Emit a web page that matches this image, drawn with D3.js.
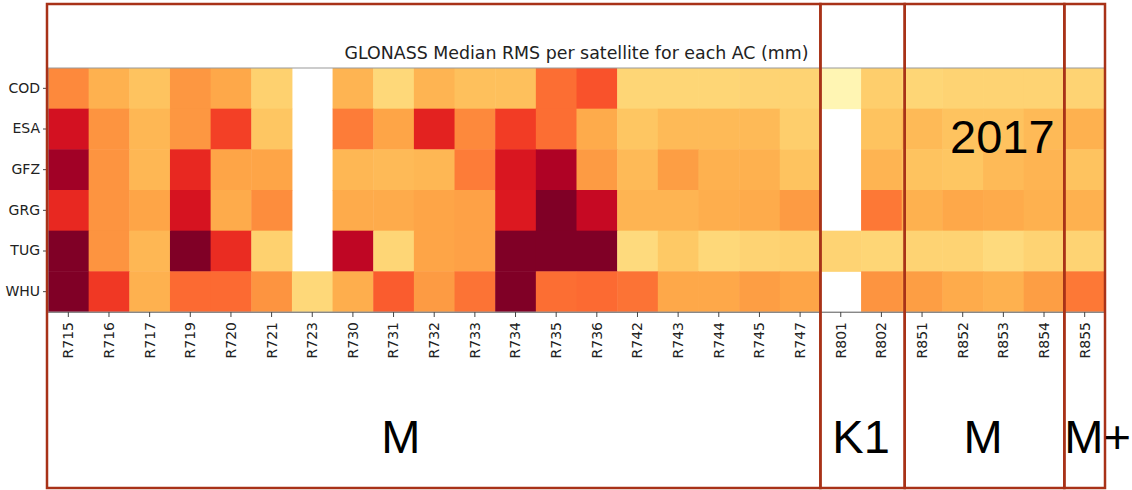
<!DOCTYPE html>
<html>
<head>
<meta charset="utf-8">
<script src="https://cdn.jsdelivr.net/npm/d3@7"></script>
<style>
  body { margin: 0; background: #fff; }
  .axis text { font-family: "DejaVu Sans", sans-serif; font-size: 14px; fill: #222; }
  .axis line { stroke: #444; }
  .axis path { stroke: #888; }
</style>
</head>
<body>
<div id="chart"></div>
<script>
// satellites (columns) and analysis centres (rows)
let satellites = ["R715", "R716", "R717", "R719", "R720", "R721", "R723", "R730", "R731", "R732",
    "R733", "R734", "R735", "R736", "R742", "R743", "R744", "R745", "R747", "R801", "R802",
    "R851", "R852", "R853", "R854", "R855"];
let centers = ["COD", "ESA", "GFZ", "GRG", "TUG", "WHU"];

// relative median RMS read from the colours (0 = low, 1 = high), null = no data
let cod = [0.50, 0.38, 0.32, 0.46, 0.41, 0.27, null, 0.37, 0.24, 0.37, 0.33, 0.33, 0.56, 0.62, 0.25, 0.25, 0.25, 0.26, 0.26, 0.07, 0.28, 0.25, 0.26, 0.26, 0.26, 0.26];
let esa = [0.80, 0.47, 0.36, 0.46, 0.66, 0.31, null, 0.53, 0.42, 0.74, 0.50, 0.67, 0.56, 0.40, 0.31, 0.35, 0.35, 0.35, 0.28, null, 0.32, 0.35, 0.32, 0.32, 0.35, 0.38];
let gfz = [0.93, 0.47, 0.36, 0.72, 0.42, 0.42, null, 0.36, 0.35, 0.36, 0.53, 0.78, 0.90, 0.45, 0.35, 0.44, 0.38, 0.38, 0.32, null, 0.37, 0.32, 0.31, 0.35, 0.37, 0.32];
let grg = [0.72, 0.47, 0.42, 0.79, 0.40, 0.49, null, 0.40, 0.40, 0.42, 0.43, 0.77, 1.00, 0.84, 0.37, 0.37, 0.39, 0.40, 0.45, null, 0.54, 0.38, 0.41, 0.40, 0.38, 0.38];
let tug = [1.00, 0.47, 0.36, 1.00, 0.71, 0.27, null, 0.86, 0.25, 0.42, 0.43, 1.00, 1.00, 1.00, 0.23, 0.30, 0.24, 0.26, 0.27, 0.26, 0.25, 0.26, 0.26, 0.23, 0.26, 0.26];
let whu = [1.00, 0.68, 0.38, 0.57, 0.57, 0.47, 0.24, 0.39, 0.60, 0.45, 0.55, 1.00, 0.56, 0.57, 0.55, 0.41, 0.41, 0.44, 0.42, null, 0.47, 0.44, 0.40, 0.38, 0.44, 0.54];

// satellite blocks marked on the figure
let blockNames = ["M", "K1", "M", "M+"];
let blockFirst = ["R715", "R801", "R851", "R855"];

let rows = [cod, esa, gfz, grg, tug, whu];
let cells = [];
rows.forEach(function (vals, i) {
    vals.forEach(function (v, j) {
        cells.push({ac: centers[i], sat: satellites[j], value: v});
    });
});

let W = 1132, H = 490;
let margin = {top: 68, right: 27, bottom: 178, left: 48};
let width = W - margin.left - margin.right,
    height = H - margin.top - margin.bottom;

let svg = d3.select("#chart")
    .append("svg")
    .attr("width", W)
    .attr("height", H);

let g = svg.append("g")
    .attr("transform", "translate(" + margin.left + "," + margin.top + ")");

let x = d3.scaleBand().domain(satellites).range([0, width]);
let y = d3.scaleBand().domain(centers).range([0, height]);
let color = d3.scaleSequential(d3.interpolateYlOrRd).domain([0, 1]);

// cells
g.append("g")
    .selectAll("rect")
    .data(cells.filter(function (d) { return d.value !== null; }))
    .enter()
    .append("rect")
    .attr("x", function (d) { return x(d.sat); })
    .attr("y", function (d) { return y(d.ac); })
    .attr("width", x.bandwidth() + 0.5)
    .attr("height", y.bandwidth() + 0.5)
    .attr("fill", function (d) { return color(d.value); });

// frame
g.append("rect")
    .attr("width", width)
    .attr("height", height)
    .attr("fill", "none")
    .attr("stroke", "#999")
    .attr("stroke-width", 1);

// axes
g.append("g")
    .attr("class", "axis")
    .attr("transform", "translate(0," + height + ")")
    .call(d3.axisBottom(x).tickSize(5).tickSizeOuter(0))
    .selectAll("text")
    .attr("transform", "rotate(-90)")
    .attr("text-anchor", "end")
    .attr("x", -10)
    .attr("y", 0)
    .attr("dy", "0.35em");

g.append("g")
    .attr("class", "axis")
    .call(d3.axisLeft(y).tickSize(5).tickPadding(3).tickSizeOuter(0))
    .select(".domain").remove();

// title
g.append("text")
    .attr("x", width / 2)
    .attr("y", -9)
    .attr("text-anchor", "middle")
    .style("font-family", "DejaVu Sans, sans-serif")
    .style("font-size", "17.4px")
    .style("fill", "#222")
    .text("GLONASS Median RMS per satellite for each AC (mm)");

// block boxes (hand-drawn in the original, K1 box a little wider)
let boxTop = 4 - margin.top, boxBottom = 488 - margin.top;
let boxShift = [0, 3, 0];
blockFirst.forEach(function (s, i) {
    let x0 = x(s) + (i > 0 ? boxShift[i - 1] : -1);
    let x1 = i < blockFirst.length - 1 ? x(blockFirst[i + 1]) + boxShift[i] : width;
    g.append("rect")
        .attr("x", x0)
        .attr("y", boxTop)
        .attr("width", x1 - x0)
        .attr("height", boxBottom - boxTop)
        .attr("fill", "none")
        .attr("stroke", "#a83218")
        .attr("stroke-width", 2.5);
});

// block labels
let bigFont = function (sel) {
    sel.style("font-family", "Liberation Sans, Arial, sans-serif")
        .style("font-size", "47px")
        .style("fill", "#000");
};
let labelY = 453 - margin.top;
g.append("text").attr("x", x("R731") + x.bandwidth() * 0.68).attr("y", labelY)
    .attr("text-anchor", "middle").call(bigFont).text(blockNames[0]);
g.append("text").attr("x", x("R802")).attr("y", labelY)
    .attr("text-anchor", "middle").call(bigFont).text(blockNames[1]);
g.append("text").attr("x", x("R853")).attr("y", labelY)
    .attr("text-anchor", "middle").call(bigFont).text(blockNames[2]);
g.append("text").attr("x", x("R855")).attr("y", labelY)
    .attr("text-anchor", "start").call(bigFont).text(blockNames[3]);

// year
g.append("text")
    .attr("x", x("R852") + x.bandwidth() * 0.19)
    .attr("y", y("GFZ") + 4)
    .call(bigFont)
    .text("2017");
</script>
</body>
</html>
